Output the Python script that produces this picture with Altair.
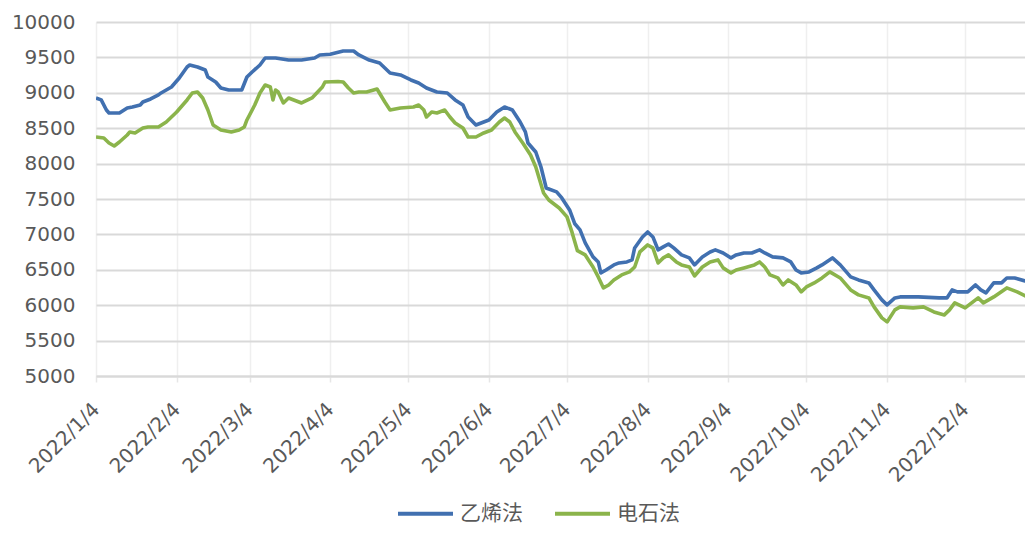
import altair as alt
import pandas as pd

series_names = ["乙烯法", "电石法"]
series_colors = ["#4170B0", "#8BB44B"]

eth_dates = [
    "2022-01-04", "2022-01-06", "2022-01-08", "2022-01-09", "2022-01-13", "2022-01-16", "2022-01-18",
    "2022-01-21", "2022-01-22", "2022-01-25", "2022-01-28", "2022-01-29", "2022-02-02", "2022-02-05",
    "2022-02-08", "2022-02-09", "2022-02-12", "2022-02-15", "2022-02-16", "2022-02-19", "2022-02-21",
    "2022-02-24", "2022-03-01", "2022-03-03", "2022-03-05", "2022-03-08", "2022-03-10", "2022-03-14",
    "2022-03-19", "2022-03-24", "2022-03-29", "2022-03-31", "2022-04-04", "2022-04-09", "2022-04-13",
    "2022-04-15", "2022-04-19", "2022-04-23", "2022-04-27", "2022-05-01", "2022-05-05", "2022-05-08",
    "2022-05-11", "2022-05-15", "2022-05-19", "2022-05-22", "2022-05-25", "2022-05-27", "2022-05-30",
    "2022-06-02", "2022-06-04", "2022-06-07", "2022-06-10", "2022-06-13", "2022-06-16", "2022-06-18",
    "2022-06-19", "2022-06-22", "2022-06-24", "2022-06-26", "2022-06-30", "2022-07-02", "2022-07-05",
    "2022-07-07", "2022-07-09", "2022-07-11", "2022-07-14", "2022-07-16", "2022-07-17", "2022-07-19",
    "2022-07-22", "2022-07-24", "2022-07-27", "2022-07-29", "2022-07-30", "2022-08-02", "2022-08-04",
    "2022-08-06", "2022-08-08", "2022-08-10", "2022-08-12", "2022-08-14", "2022-08-17", "2022-08-20",
    "2022-08-22", "2022-08-25", "2022-08-28", "2022-08-30", "2022-09-02", "2022-09-05", "2022-09-07",
    "2022-09-10", "2022-09-13", "2022-09-16", "2022-09-18", "2022-09-21", "2022-09-25", "2022-09-28",
    "2022-09-30", "2022-10-02", "2022-10-05", "2022-10-08", "2022-10-10", "2022-10-14", "2022-10-17",
    "2022-10-21", "2022-10-24", "2022-10-28", "2022-10-30", "2022-11-02", "2022-11-04", "2022-11-07",
    "2022-11-09", "2022-11-16", "2022-11-24", "2022-11-27", "2022-11-29", "2022-12-01", "2022-12-05",
    "2022-12-08", "2022-12-10", "2022-12-12", "2022-12-15", "2022-12-18", "2022-12-20", "2022-12-23",
    "2022-12-27", "2022-12-30",
]
eth_values = [
    8927, 8900, 8757, 8715, 8715, 8786, 8800,
    8828, 8870, 8913, 8970, 8998, 9082, 9209,
    9365, 9393, 9365, 9322, 9223, 9153, 9068,
    9040, 9040, 9223, 9294, 9393, 9492, 9492,
    9463, 9463, 9492, 9534, 9545, 9590, 9590,
    9534, 9463, 9421, 9280, 9252, 9181, 9139,
    9068, 9012, 8997, 8899, 8828, 8658, 8545,
    8588, 8616, 8729, 8800, 8757, 8588, 8447,
    8291, 8164, 7952, 7656, 7600, 7515, 7345,
    7150, 7063, 6880, 6682, 6611, 6456, 6498,
    6569, 6597, 6611, 6640, 6809, 6964, 7035,
    6964, 6781, 6823, 6865, 6809, 6710, 6668,
    6569, 6682, 6752, 6781, 6738, 6668, 6710,
    6738, 6738, 6781, 6738, 6682, 6668, 6611,
    6498, 6456, 6470, 6527, 6569, 6668, 6569,
    6400, 6357, 6315, 6216, 6075, 6004, 6103,
    6117, 6117, 6103, 6103, 6216, 6188, 6188,
    6286, 6216, 6174, 6315, 6315, 6385, 6385,
    6343, 6315,
]

carb_dates = [
    "2022-01-04", "2022-01-07", "2022-01-09", "2022-01-11", "2022-01-13", "2022-01-16", "2022-01-17",
    "2022-01-19", "2022-01-22", "2022-01-24", "2022-01-28", "2022-01-31", "2022-02-04", "2022-02-08",
    "2022-02-10", "2022-02-12", "2022-02-14", "2022-02-16", "2022-02-18", "2022-02-21", "2022-02-25",
    "2022-02-28", "2022-03-02", "2022-03-03", "2022-03-06", "2022-03-08", "2022-03-10", "2022-03-12",
    "2022-03-13", "2022-03-14", "2022-03-15", "2022-03-17", "2022-03-19", "2022-03-21", "2022-03-24",
    "2022-03-28", "2022-04-01", "2022-04-02", "2022-04-07", "2022-04-09", "2022-04-11", "2022-04-13",
    "2022-04-15", "2022-04-18", "2022-04-22", "2022-04-25", "2022-04-27", "2022-05-01", "2022-05-06",
    "2022-05-08", "2022-05-10", "2022-05-11", "2022-05-13", "2022-05-15", "2022-05-18", "2022-05-20",
    "2022-05-22", "2022-05-25", "2022-05-27", "2022-05-30", "2022-06-02", "2022-06-05", "2022-06-08",
    "2022-06-10", "2022-06-12", "2022-06-14", "2022-06-17", "2022-06-20", "2022-06-22", "2022-06-25",
    "2022-06-27", "2022-07-01", "2022-07-04", "2022-07-06", "2022-07-08", "2022-07-11", "2022-07-14",
    "2022-07-16", "2022-07-18", "2022-07-20", "2022-07-22", "2022-07-25", "2022-07-28", "2022-07-30",
    "2022-08-01", "2022-08-04", "2022-08-06", "2022-08-08", "2022-08-10", "2022-08-12", "2022-08-15",
    "2022-08-17", "2022-08-20", "2022-08-22", "2022-08-25", "2022-08-28", "2022-08-31", "2022-09-02",
    "2022-09-05", "2022-09-07", "2022-09-10", "2022-09-14", "2022-09-16", "2022-09-18", "2022-09-20",
    "2022-09-23", "2022-09-25", "2022-09-27", "2022-09-30", "2022-10-02", "2022-10-04", "2022-10-07",
    "2022-10-10", "2022-10-13", "2022-10-17", "2022-10-21", "2022-10-24", "2022-10-28", "2022-10-30",
    "2022-11-02", "2022-11-04", "2022-11-07", "2022-11-09", "2022-11-14", "2022-11-18", "2022-11-22",
    "2022-11-26", "2022-11-28", "2022-11-30", "2022-12-04", "2022-12-09", "2022-12-11", "2022-12-15",
    "2022-12-20", "2022-12-24", "2022-12-28", "2022-12-30",
]
carb_values = [
    8376, 8362, 8291, 8249, 8305, 8404, 8447,
    8433, 8503, 8517, 8517, 8588, 8729, 8899,
    8997, 9012, 8927, 8757, 8545, 8475, 8447,
    8475, 8517, 8616, 8828, 8997, 9110, 9082,
    8899, 9040, 9012, 8856, 8927, 8899, 8856,
    8927, 9082, 9153, 9160, 9153, 9068, 8997,
    9012, 9012, 9054, 8870, 8757, 8786, 8800,
    8828, 8757, 8658, 8729, 8715, 8757, 8658,
    8574, 8503, 8376, 8376, 8433, 8475, 8588,
    8644, 8588, 8447, 8291, 8122, 7952, 7585,
    7486, 7373, 7247, 7021, 6770, 6710, 6540,
    6399, 6244, 6286, 6357, 6428, 6470, 6540,
    6752, 6851, 6809, 6597, 6668, 6710, 6611,
    6569, 6540, 6413, 6540, 6611, 6640, 6527,
    6456, 6498, 6527, 6569, 6611, 6540, 6428,
    6385, 6286, 6357, 6286, 6188, 6258, 6315,
    6385, 6470, 6385, 6216, 6146, 6103, 5976,
    5821, 5764, 5934, 5976, 5962, 5976, 5905,
    5863, 5934, 6033, 5962, 6103, 6033, 6117,
    6244, 6188, 6117, 6075,
]

tick_labels = ["2022/1/4", "2022/2/4", "2022/3/4", "2022/4/4", "2022/5/4", "2022/6/4",
               "2022/7/4", "2022/8/4", "2022/9/4", "2022/10/4", "2022/11/4", "2022/12/4"]
y_ticks = [5000, 5500, 6000, 6500, 7000, 7500, 8000, 8500, 9000, 9500, 10000]
x_start = "2022/1/4"
x_end = "2022/12/27"


def dt(s):
    y, m, d = (int(v) for v in s.split("/"))
    return alt.DateTime(year=y, month=m, date=d, utc=True)


df = pd.concat([
    pd.DataFrame({"date": eth_dates, "value": eth_values, "series": series_names[0]}),
    pd.DataFrame({"date": carb_dates, "value": carb_values, "series": series_names[1]}),
], ignore_index=True)

label_color = "#595959"

chart = alt.Chart(df).mark_line(strokeWidth=3.6, clip=True, strokeJoin="round").encode(
    x=alt.X(
        "date:T",
        scale=alt.Scale(type="utc", domain=[dt(x_start), dt(x_end)]),
        axis=alt.Axis(
            values=[dt(s) for s in tick_labels],
            labelExpr="utcFormat(datum.value, '%Y/%-m/%-d')",
            labelAngle=-45,
            labelAlign="right",
            labelBaseline="middle",
            labelFont="DejaVu Sans",
            labelFontSize=20,
            labelColor=label_color,
            labelPadding=24,
            ticks=True,
            tickSize=6,
            tickColor="#e6e6e6",
            tickWidth=1.5,
            domain=True,
            domainColor="#d9d9d9",
            domainWidth=2,
            grid=True,
            gridColor="#efefef",
            gridWidth=1.5,
            labelOverlap=False,
        ),
        title=None,
    ),
    y=alt.Y(
        "value:Q",
        scale=alt.Scale(domain=[5000, 10000], nice=False, zero=False),
        axis=alt.Axis(
            values=y_ticks,
            format="d",
            labelFont="DejaVu Sans",
            labelFontSize=20,
            labelColor=label_color,
            labelPadding=21,
            ticks=False,
            domain=False,
            grid=True,
            gridColor="#d9d9d9",
            gridWidth=2,
        ),
        title=None,
    ),
    color=alt.Color(
        "series:N",
        scale=alt.Scale(domain=series_names, range=series_colors),
        legend=alt.Legend(
            orient="none",
            legendX=300,
            legendY=462,
            direction="horizontal",
            title=None,
            symbolType="stroke",
            symbolSize=3025,
            symbolStrokeWidth=4,
            labelFont="Noto Sans CJK SC",
            labelFontSize=21,
            labelColor=label_color,
            labelOffset=5,
            columnPadding=24,
            padding=0,
        ),
    ),
).properties(
    width=929,
    height=354,
    autosize=alt.AutoSizeParams(type="none"),
    padding={"left": 88, "top": 14, "right": 0, "bottom": 153},
).configure_view(stroke=None)

chart.save("out.html", embed_options={"renderer": "svg", "actions": False})
